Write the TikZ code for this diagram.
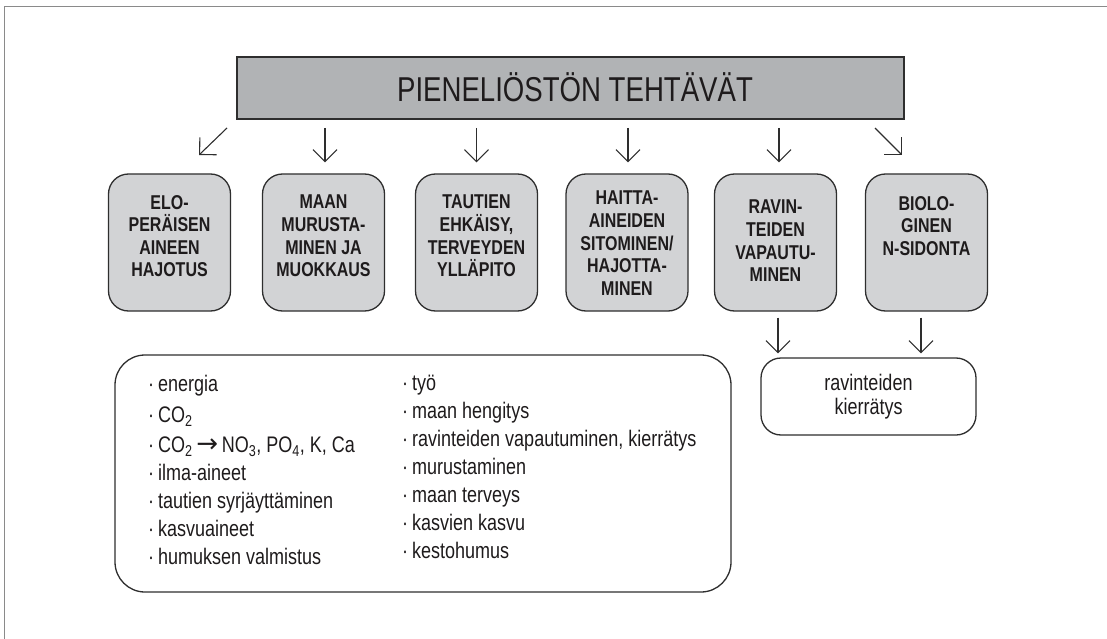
\documentclass[tikz,border=0pt]{standalone}
\usepackage{fontspec}
\setmainfont{Liberation Sans}[FakeStretch=0.8]
\newfontfamily\symfont{DejaVu Sans}
\usetikzlibrary{arrows.meta,calc}

\definecolor{ink}{HTML}{1E1B1C}
\definecolor{linegray}{HTML}{2E2E2E}
\definecolor{titlegray}{HTML}{B1B3B5}
\definecolor{boxgray}{HTML}{D2D3D5}
\definecolor{framegray}{HTML}{8A8A8A}

% bullet used in the lists
\newcommand\bul{·\kern4pt}
% reaction arrow in the list
\newcommand\reacto{{\symfont\fontsize{26}{28}\selectfont →}}

\begin{document}
\begin{tikzpicture}[x=1pt,y=-1pt,
  task/.style={draw=linegray, line width=1.3pt, fill=boxgray, rounded corners=20pt,
    minimum width=122pt, minimum height=137pt, inner sep=0pt},
  tasktext/.style={align=center, font=\bfseries\fontsize{20}{22.6}\selectfont,
    text=ink, inner sep=0pt, anchor=north},
  arr/.style={draw=linegray, line width=1.1pt,
    -{Straight Barb[angle=90:17pt, line width=1.1pt]}},
  listtext/.style={align=left, font=\fontsize{22.5}{28}\selectfont, text=ink,
    inner sep=0pt, anchor=north west}]

\useasboundingbox (0,0) rectangle (1107,639);

% frame
\draw[framegray, line width=1.6pt] (4.5,639) -- (4.5,6.5) -- (1107,6.5);

% title bar
\node[draw=linegray, line width=1.6pt, fill=titlegray, minimum width=667pt,
  minimum height=62pt, inner sep=0pt] (title) at (570.5,88) {};
\node[anchor=base, inner sep=0pt, text=ink, font=\fontsize{34.5}{40}\selectfont]
  (titletext) at (575,102) {PIENELIÖSTÖN TEHTÄVÄT};

% task boxes
\node[task] (b1) at (169.5,242.5) {};
\node[task] (b2) at (323.5,242.5) {};
\node[task] (b3) at (476.5,242.5) {};
\node[task] (b4) at (627,242.5) {};
\node[task] (b5) at (775.5,242.5) {};
\node[task] (b6) at (926.5,242.5) {};

\node[tasktext] (t1) at (169.5,195) {ELO-\\PERÄISEN\\AINEEN\\HAJOTUS};
\node[tasktext] (t2) at (323.5,195) {MAAN\\MURUSTA-\\MINEN JA\\MUOKKAUS};
\node[tasktext] (t3) at (476.5,195) {TAUTIEN\\EHKÄISY,\\TERVEYDEN\\YLLÄPITO};
\node[tasktext] (t4) at (627,191) {HAITTA-\\AINEIDEN\\SITOMINEN/\\HAJOTTA-\\MINEN};
\node[tasktext] (t5) at (775.5,200) {RAVIN-\\TEIDEN\\VAPAUTU-\\MINEN};
\node[tasktext] (t6) at (926.5,196) {BIOLO-\\GINEN\\N-SIDONTA};

% arrows from the title bar
\coordinate (d1s) at (227,128);
\coordinate (d1e) at (199,155);
\coordinate (d6s) at (875,128);
\coordinate (d6e) at (902,155);
\draw[arr] (d1s) -- (d1e);
\draw[arr] ($(title.south -| b2.north)+(1.5,8)$) -- ($(b2.north)+(1.5,-11)$);
\draw[arr] ($(title.south -| b3.north)+(0,8)$) -- ($(b3.north)+(0,-11)$);
\draw[arr] ($(title.south -| b4.north)+(1,8)$) -- ($(b4.north)+(1,-11)$);
\draw[arr] ($(title.south -| b5.north)+(3.5,8)$) -- ($(b5.north)+(3.5,-11)$);
\draw[arr] (d6s) -- (d6e);

% nutrient cycling
\node[draw=linegray, line width=1.3pt, fill=white, rounded corners=20pt,
  minimum width=215pt, minimum height=77pt, inner sep=0pt, align=center,
  text=ink, font=\fontsize{22.5}{24}\selectfont] (kier) at (868.5,396.5)
  {ravinteiden\\kierrätys};
\draw[arr] ($(b5.south)+(2.5,6)$) -- ($(b5.south |- kier.north)+(2.5,-4)$);
\draw[arr] ($(b6.south)+(-5.5,6)$) -- ($(b6.south |- kier.north)+(-5.5,-4)$);

% list of effects
\node[draw=linegray, line width=1.3pt, rounded corners=30pt, minimum width=616pt,
  minimum height=237pt, inner sep=0pt] (list) at (423,473.5) {};
\node[listtext] (colL) at (147.9,374.8) {\bul energia\\[3.5pt]
  \bul CO\textsubscript{2}\\[1.8pt]
  \bul CO\textsubscript{2}\,\reacto\,NO\textsubscript{3}, PO\textsubscript{4}, K, Ca\\
  \bul ilma-aineet\\
  \bul tautien syrjäyttäminen\\
  \bul kasvuaineet\\
  \bul humuksen valmistus};
\node[listtext] (colR) at (402,375.1) {\bul työ\\
  \bul maan hengitys\\
  \bul ravinteiden vapautuminen, kierrätys\\
  \bul murustaminen\\
  \bul maan terveys\\
  \bul kasvien kasvu\\
  \bul kestohumus};
\end{tikzpicture}
\end{document}
